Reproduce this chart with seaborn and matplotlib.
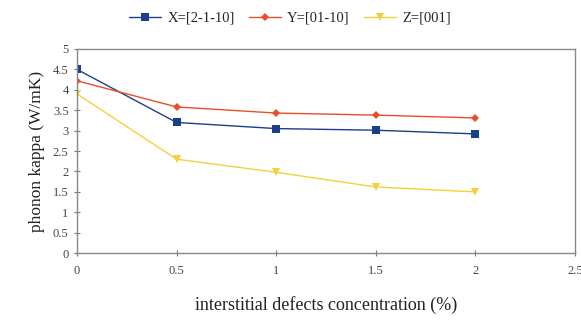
import numpy as np
import pandas as pd
import matplotlib
matplotlib.use("Agg")
import matplotlib.pyplot as plt
import seaborn as sns

# data
conc = [0, 0.5, 1, 1.5, 2]
kappa_x = [4.5, 3.2, 3.05, 3.01, 2.92]
kappa_y = [4.22, 3.58, 3.43, 3.38, 3.31]
kappa_z = [3.9, 2.3, 1.98, 1.62, 1.5]
series_names = ["X=[2-1-10]", "Y=[01-10]", "Z=[001]"]

df = pd.DataFrame({
    "conc": conc * 3,
    "kappa": kappa_x + kappa_y + kappa_z,
    "dir": [series_names[0]] * 5 + [series_names[1]] * 5 + [series_names[2]] * 5,
})

sns.set_style("white")
plt.rcParams['font.family'] = ['Liberation Serif', 'DejaVu Serif']

colors = {series_names[0]: "#1c3f8c", series_names[1]: "#e84e2c", series_names[2]: "#f4d13c"}
markers = {series_names[0]: "s", series_names[1]: "D", series_names[2]: "v"}
sizes = {series_names[0]: 6, series_names[1]: 4, series_names[2]: 6}

fig = plt.figure(figsize=(5.81, 3.2), dpi=100)
ax = fig.add_axes([0.1325, 0.209, 0.857, 0.638])

for name in series_names:
    sub = df[df["dir"] == name]
    sns.lineplot(data=sub, x="conc", y="kappa", ax=ax, color=colors[name],
                 marker=markers[name], markersize=sizes[name], markeredgewidth=0,
                 linewidth=1.0, label=name)

ax.set_xlim(0, 2.5)
ax.set_ylim(0, 5)
ax.set_xticks([0, 0.5, 1, 1.5, 2, 2.5])
ax.set_xticklabels(["0", "0.5", "1", "1.5", "2", "2.5"])
ax.set_yticks(np.arange(0, 5.01, 0.5))
ax.set_yticklabels(["0", "0.5", "1", "1.5", "2", "2.5", "3", "3.5", "4", "4.5", "5"])
ax.tick_params(axis="both", direction="inout", length=5, width=0.8, color="#777777",
               labelsize=9, labelcolor="#444444", bottom=True, left=True)
ax.tick_params(axis="x", pad=6)
for s in ax.spines.values():
    s.set_color("#888888")
    s.set_linewidth(1.0)

ax.set_xlabel("interstitial defects concentration (%)", fontsize=13, color="#222222", labelpad=14)
ax.set_ylabel("phonon kappa (W/mK)", fontsize=12.5, color="#222222", labelpad=6)

ax.legend(loc="center", bbox_to_anchor=(0.428, 1.15), ncol=3, frameon=False,
          fontsize=10.5, handlelength=2.2, columnspacing=1.0, handletextpad=0.4,
          borderaxespad=0)

fig.savefig("out.png", dpi=100)
